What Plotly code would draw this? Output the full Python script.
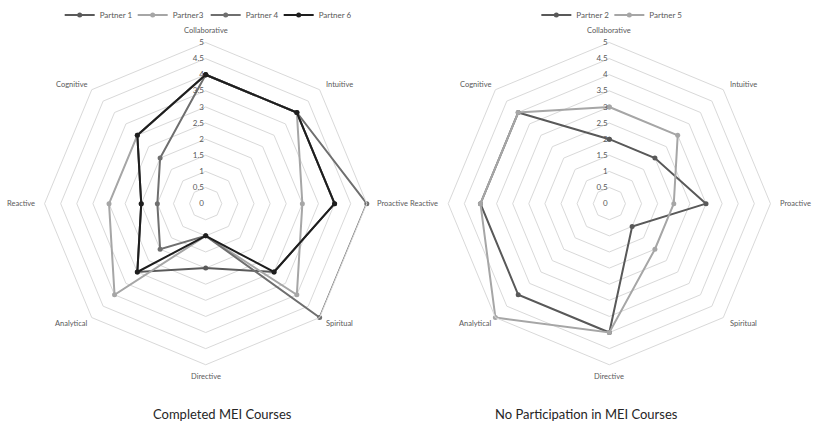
import math
import plotly.graph_objects as go

categories = ["Collaborative", "Intuitive", "Proactive", "Spiritual",
              "Directive", "Analytical", "Reactive", "Cognitive"]

# Completed MEI courses
partner_1 = [4, 4, 4, 3, 2, 3, 2, 3]
partner_3 = [4, 4, 3, 4, 1, 4, 3, 3]
partner_4 = [4, 4, 5, 5, 1, 2, 1.5, 2]
partner_6 = [4, 4, 4, 3, 1, 3, 2, 3]

# No participation in MEI courses
partner_2 = [2, 2, 3, 1, 4, 4, 4, 4]
partner_5 = [3, 3, 2, 2, 4, 5, 4, 4]

radial_ticks = [0, 0.5, 1, 1.5, 2, 2.5, 3, 3.5, 4, 4.5, 5]

FONT = "Lato"
TXT = "#595959"
GRID = "#d9d9d9"
W, H = 813, 429

left_series = [("Partner 1", partner_1, "#5a5a5a"),
               ("Partner3", partner_3, "#a6a6a6"),
               ("Partner 4", partner_4, "#6f6f6f"),
               ("Partner 6", partner_6, "#1e1e1e")]
right_series = [("Partner 2", partner_2, "#595959"),
                ("Partner 5", partner_5, "#a6a6a6")]

# polar domains (paper fractions)
YDOM = [0.1515, 0.9115]
XDOM_L = [0.0525, 0.4535]
XDOM_R = [0.549, 0.950]

fig = go.Figure()


def closed(vals):
    return list(vals) + [vals[0]]


for name, vals, col in left_series:
    fig.add_trace(go.Scatterpolar(
        r=closed(vals), theta=closed(categories), name=name, subplot="polar",
        mode="lines+markers", line=dict(color=col, width=2),
        marker=dict(color=col, size=5), legend="legend"))

for name, vals, col in right_series:
    fig.add_trace(go.Scatterpolar(
        r=closed(vals), theta=closed(categories), name=name, subplot="polar2",
        mode="lines+markers", line=dict(color=col, width=2),
        marker=dict(color=col, size=5), legend="legend2"))


def polar_layout(xdom):
    return dict(
        domain=dict(x=xdom, y=YDOM),
        gridshape="linear",
        bgcolor="white",
        angularaxis=dict(direction="clockwise", rotation=90,
                         showgrid=False, showline=True, linecolor=GRID,
                         linewidth=1, ticks="", showticklabels=False,
                         categoryorder="array", categoryarray=categories),
        radialaxis=dict(range=[0, 5], tickvals=radial_ticks,
                        ticktext=[f"{t:g}" for t in radial_ticks],
                        angle=90, tickangle=90, side="counterclockwise",
                        showline=False, ticks="", gridcolor=GRID, gridwidth=1,
                        tickfont=dict(family=FONT, size=8, color=TXT)),
    )


def category_labels(xdom):
    """Category names placed just outside the outer ring of a radar."""
    cx = (xdom[0] + xdom[1]) / 2
    cy = (YDOM[0] + YDOM[1]) / 2
    radius_px = (xdom[1] - xdom[0]) * W / 2
    out = []
    n = len(categories)
    for i, cat in enumerate(categories):
        ang = 2 * math.pi * i / n
        sx, sy = math.sin(ang), math.cos(ang)
        xanchor = "center"
        if abs(sy) < 1e-6:          # side axes: anchored at the text edge
            dist = radius_px + 6
            xanchor = "left" if sx > 0 else "right"
            dxp, dyp = sx * dist, 0.0
        elif abs(sx) < 1e-6:        # top / bottom axes
            dist = radius_px + 12
            dxp, dyp = 0.0, sy * dist
        else:                       # diagonals
            dist = radius_px + 8
            dxp = sx * dist + 13 * (1 if sx > 0 else -1)
            dyp = sy * dist
        out.append(dict(text=cat, x=cx + dxp / W, y=cy + dyp / H,
                        xref="paper", yref="paper", showarrow=False,
                        xanchor=xanchor, yanchor="middle",
                        font=dict(family=FONT, size=7.5, color=TXT)))
    return out


annotations = category_labels(XDOM_L) + category_labels(XDOM_R) + [
    dict(text="Completed MEI Courses", x=222 / W, y=1 - 414 / H,
         xref="paper", yref="paper", showarrow=False,
         xanchor="center", yanchor="middle",
         font=dict(family=FONT, size=13, color="#262626")),
    dict(text="No Participation in MEI Courses", x=586 / W,
         y=1 - 414 / H, xref="paper", yref="paper", showarrow=False,
         xanchor="center", yanchor="middle",
         font=dict(family=FONT, size=13, color="#262626")),
]

legend_style = dict(orientation="h", xanchor="center", y=1 - 10 / H,
                    yanchor="middle", font=dict(family=FONT, size=8, color=TXT),
                    itemwidth=30, entrywidth=28, entrywidthmode="pixels",
                    bgcolor="rgba(0,0,0,0)")

fig.update_layout(
    width=W, height=H,
    margin=dict(l=0, r=0, t=0, b=0),
    paper_bgcolor="white",
    plot_bgcolor="white",
    polar=polar_layout(XDOM_L),
    polar2=polar_layout(XDOM_R),
    legend=dict(x=0.253, **legend_style),
    legend2=dict(x=0.7495, **legend_style),
    annotations=annotations,
)

fig.write_html("out.html")
